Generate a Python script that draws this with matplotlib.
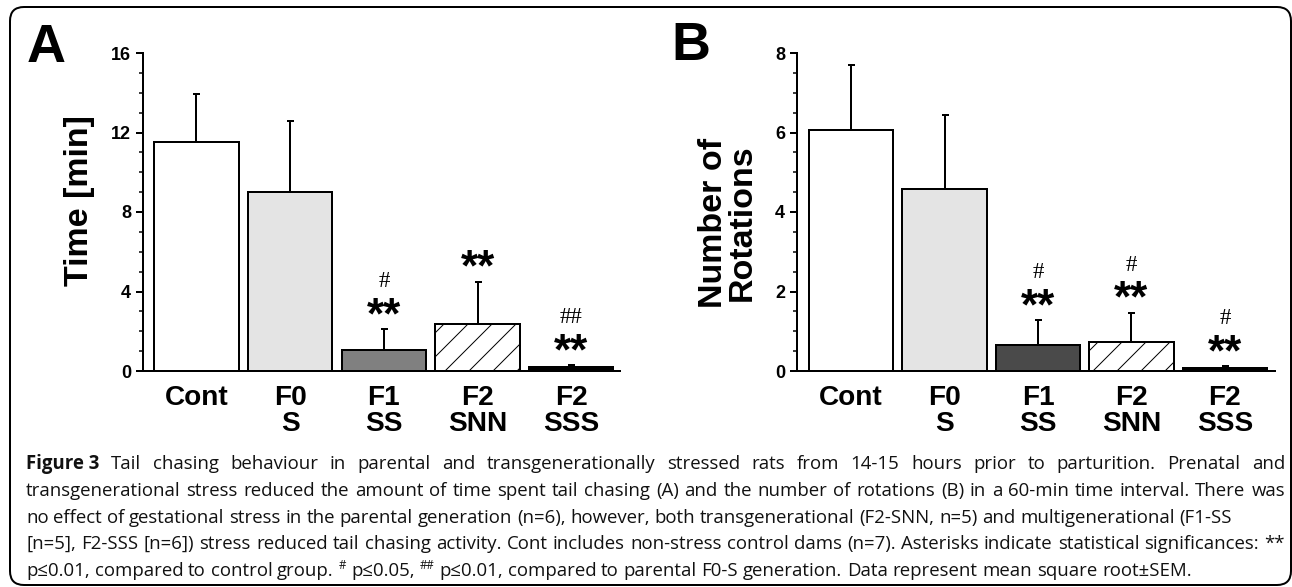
import numpy as np
import matplotlib
matplotlib.use("Agg")
import matplotlib.pyplot as plt
from matplotlib.patches import FancyBboxPatch

# values
groups = ["Cont", "F0\nS", "F1\nSS", "F2\nSNN", "F2\nSSS"]

time_mean = [11.5, 9.0, 1.05, 2.35, 0.2]
time_sem = [2.45, 3.6, 1.05, 2.15, 0.1]
time_stars = ["", "", "**", "**", "**"]
time_hash = ["", "", "#", "", "##"]

rot_mean = [6.07, 4.58, 0.65, 0.73, 0.08]
rot_sem = [1.63, 1.87, 0.63, 0.74, 0.04]
rot_stars = ["", "", "**", "**", "**"]
rot_hash = ["", "", "#", "#", "#"]

caption = [
    [("Figure 3", "b"), "Tail chasing behaviour in parental and transgenerationally stressed rats from 14-15 hours prior to parturition. Prenatal and"],
    ["transgenerational stress reduced the amount of time spent tail chasing (A) and the number of rotations (B) in a 60-min time interval. There was"],
    ["no effect of gestational stress in the parental generation (n=6), however, both transgenerational (F2-SNN, n=5) and multigenerational (F1-SS"],
    ["[n=5], F2-SSS [n=6]) stress reduced tail chasing activity. Cont includes non-stress control dams (n=7). Asterisks indicate statistical significances: **"],
    ["p\u22640.01, compared to control group.", ("#", "s"), "p\u22640.05,", ("##", "s"), "p\u22640.01, compared to parental F0-S generation. Data represent mean square root\u00b1SEM."],
]

W, H = 1292, 587
fig = plt.figure(figsize=(W / 72, H / 72), dpi=72)
plt.rcParams['hatch.linewidth'] = 1.0

# background axes in pixel units for border and caption
bg = fig.add_axes([0, 0, 1, 1], zorder=-1)
bg.set_xlim(0, W)
bg.set_ylim(H, 0)
bg.axis("off")
bg.add_patch(FancyBboxPatch((10, 7), 1281, 578, boxstyle="round,pad=0,rounding_size=14",
                            fc="white", ec="black", lw=2))

bar_fill_A = ["white", "#e4e4e4", "#808080", "white", "black"]
bar_fill_B = ["white", "#e4e4e4", "#4a4a4a", "white", "black"]
hatches = [None, None, None, "/", None]


def panel(rect, means, sems, fills, xlim, ymax, major, minor, stars, hashes, ylabel, ylab_pos):
    ax = fig.add_axes(rect)
    x = np.arange(len(means))
    bars = ax.bar(x, means, width=0.9, color=fills, edgecolor="black", linewidth=2, zorder=2)
    for b, h in zip(bars, hatches):
        if h:
            b.set_hatch(h)
    ax.errorbar(x, means, yerr=[np.zeros(len(sems)), sems], fmt="none", ecolor="black",
                elinewidth=2, capsize=3.5, capthick=2, zorder=3)
    ax.set_xlim(*xlim)
    ax.set_ylim(0, ymax)
    ax.set_yticks(np.arange(0, ymax + 0.01, major))
    ax.set_yticks(np.arange(0, ymax + 0.01, minor), minor=True)
    ax.set_xticks(x)
    ax.set_xticklabels(groups, fontsize=28, fontweight="bold", family="Liberation Sans",
                       linespacing=1.0)
    ax.tick_params(axis="x", length=0, pad=14)
    ax.tick_params(axis="y", which="major", length=7, width=2, pad=5)
    ax.tick_params(axis="y", which="minor", length=4, width=1.5)
    for lab in ax.get_yticklabels():
        lab.set_fontsize(18)
        lab.set_fontweight("bold")
        lab.set_family("Liberation Sans")
    for s in ["top", "right"]:
        ax.spines[s].set_visible(False)
    for s in ["left", "bottom"]:
        ax.spines[s].set_linewidth(2)
    ax.set_ylabel(ylabel, fontsize=34, fontweight="bold", family="Liberation Sans",
                  va="center", linespacing=0.9)
    ax.yaxis.set_label_coords(*ylab_pos)
    for xi, m, e, st, hs in zip(x, means, sems, stars, hashes):
        if st:
            ax.annotate(st, (xi, m + e), xytext=(0, 1), textcoords="offset points",
                        ha="center", va="baseline", fontsize=44, fontweight="bold",
                        family="Liberation Sans")
        if hs:
            ax.annotate(hs, (xi, m + e), xytext=(0, 42), textcoords="offset points",
                        ha="center", va="baseline", fontsize=23, family="Liberation Serif")
    return ax


panel([143 / W, 216 / H, 477 / W, 318 / H], time_mean, time_sem, bar_fill_A,
      (-0.571, 4.52), 16, 4, 1, time_stars, time_hash, "Time [min]", (-0.134, 0.535))
panel([797 / W, 216 / H, 478 / W, 318 / H], rot_mean, rot_sem, bar_fill_B,
      (-0.578, 4.535), 8, 2, 0.5, rot_stars, rot_hash, "Number of\nRotations", (-0.144, 0.465))

fig.text(27 / W, 1 - 62 / H, "A", fontsize=54, fontweight="bold", family="Liberation Sans")
fig.text(671 / W, 1 - 60 / H, "B", fontsize=54, fontweight="bold", family="Liberation Sans")

# caption, justified word by word
cap_font = ["Open Sans", "DejaVu Sans"]
cap_size = 18.6
baselines = [469, 496, 523, 549, 576]
right_edges = [1285, 1285, 1232, 1285, None]
renderer = fig.canvas.get_renderer()

for parts, yb, right in zip(caption, baselines, right_edges):
    words = []
    for p in parts:
        if isinstance(p, tuple):
            words.append(p)
        else:
            words += [(w, "n") for w in p.split(" ")]
    arts = []
    for w, kind in words:
        if kind == "s":
            t = bg.text(0, yb - 7, w, fontsize=11.5, family=cap_font, va="baseline", color="#111111")
        else:
            t = bg.text(0, yb, w, fontsize=cap_size, family=cap_font, va="baseline",
                        fontweight="bold" if kind == "b" else "normal", color="#111111")
        arts.append(t)
    widths = [a.get_window_extent(renderer).width for a in arts]
    if right is None:
        gap = 0.26 * cap_size
    else:
        gap = (right - 26 - sum(widths)) / (len(arts) - 1)
    xpos = 26
    for a, w in zip(arts, widths):
        a.set_x(xpos)
        xpos += w + gap

fig.savefig("out.png", dpi=72)
